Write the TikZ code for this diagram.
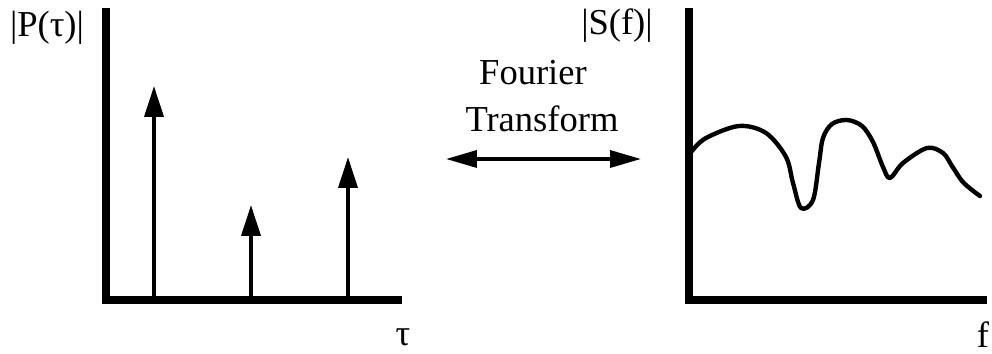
\documentclass[tikz,border=0pt]{standalone}
\usepackage{fontspec}
\setmainfont{Liberation Serif}
\usetikzlibrary{arrows.meta}
\tikzset{
  axis/.style={line width=4.5pt, line join=miter},
  spike/.style={-{Triangle[length=0.62cm, width=0.38cm]}, line width=2.2pt},
  ftarrow/.style={{Triangle[length=0.62cm, width=0.34cm]}-{Triangle[length=0.62cm, width=0.34cm]}, line width=2pt},
  spectrum/.style={line width=2.5pt, line cap=round, line join=round},
  lab/.style={font=\fontsize{20.8}{25}\selectfont, inner sep=0pt, anchor=base},
}

\begin{document}
\begin{tikzpicture}[x=0.02cm, y=-0.02cm]
  \useasboundingbox (0,0) rectangle (992,354);

  % left panel: delay profile
  \draw[axis] (106,8) -- (106,300) -- (402,300);
  \foreach \name/\px/\py in {a/154/86, b/251/205, c/348/157}{
    \coordinate (\name-foot) at (\px,300);
    \coordinate (\name-tip) at (\px,\py);
    \draw[spike] (\name-foot) -- (\name-tip);
  }
  \node[lab] (ptau) at (47,37) {|P(τ)|};
  \node[lab] (tau) at (403,346) {τ};

  % transform between the two
  \node[lab] (four) at (533,85) {Fourier};
  \node[lab] (trans) at (542,132) {Transform};
  \coordinate (ftl) at (446,159);
  \coordinate (ftr) at (641,159);
  \draw[ftarrow] (ftl) -- (ftr);

  % right panel: frequency response
  \draw[axis] (689,8) -- (689,300) -- (987,300);
  \draw[spectrum] plot[smooth, tension=0.55] coordinates {
    (692,151) (706,138) (739,126) (766,133) (786,157) (793,183) (801,208)
    (813,200) (819,163) (823,138) (832,124) (847,120) (862,126) (873,142)
    (883,167) (890,178) (903,163) (927,148) (943,153) (952,166) (962,181)
    (972,190) (980,196)};
  \node[lab] (sf) at (617,35) {|S(f)|};
  \node[lab] (f) at (983,348) {f};
\end{tikzpicture}
\end{document}
